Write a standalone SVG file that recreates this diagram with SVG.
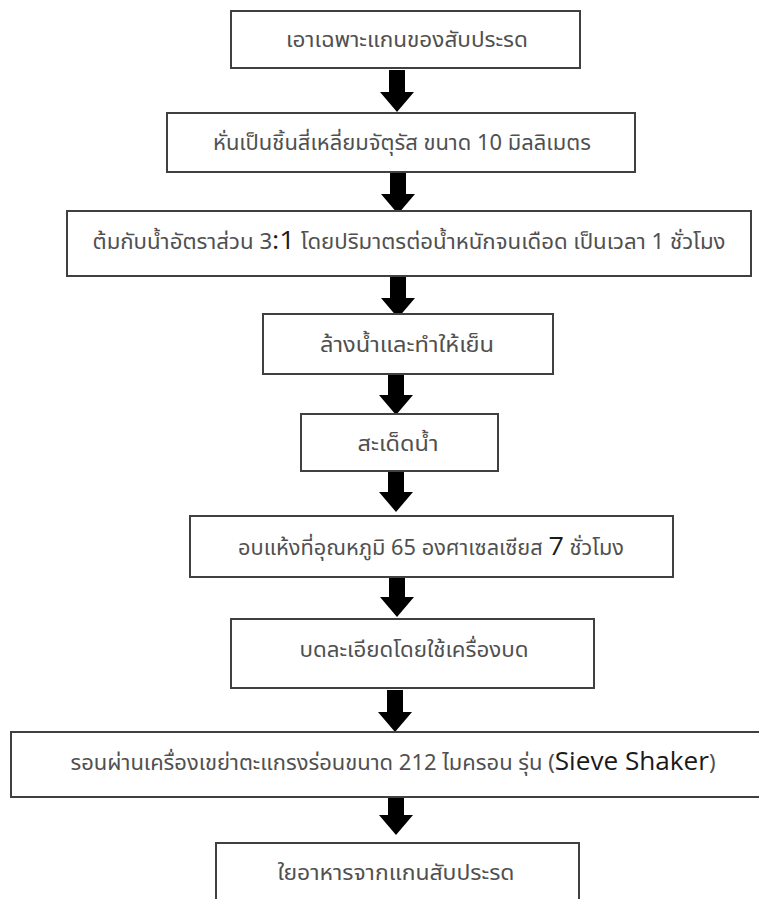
<svg xmlns="http://www.w3.org/2000/svg" width="759" height="899" viewBox="0 0 759 899">
<style>
.box{fill:#fff;stroke:#404040;stroke-width:2}
.t{font-family:"Noto Sans Thai","Noto Sans","DejaVu Sans",sans-serif;font-size:21px;fill:#505050;text-anchor:middle}
.b{fill:#1a1a1a;font-family:"Open Sans","Noto Sans",sans-serif}
.arr{fill:#000}
</style>
<defs>
<path id="arrow" d="M-8,0 H8 V22 H17 L0,42 L-17,22 H-8 Z"/>
</defs>
<rect width="759" height="899" fill="#fff"/>
<g id="connectors">
<use href="#arrow" class="arr" x="397" y="70"/>
<use href="#arrow" class="arr" x="398" y="172"/>
<use href="#arrow" class="arr" x="398" y="276"/>
<use href="#arrow" class="arr" x="396" y="373"/>
<use href="#arrow" class="arr" x="396" y="470"/>
<use href="#arrow" class="arr" x="397" y="575"/>
<use href="#arrow" class="arr" x="395" y="690"/>
<use href="#arrow" class="arr" x="396" y="793"/>
</g>
<g id="n1"><rect class="box" x="231" y="11" width="349" height="57"/><text class="t" x="407" y="47" textLength="242" lengthAdjust="spacingAndGlyphs">เอาเฉพาะแกนของสับประรด</text></g>
<g id="n2"><rect class="box" x="167" y="113" width="468" height="59"/><text class="t" x="402" y="150" textLength="378" lengthAdjust="spacingAndGlyphs">หั่นเป็นชิ้นสี่เหลี่ยมจัตุรัส ขนาด 10 มิลลิเมตร</text></g>
<g id="n3"><rect class="box" x="67" y="211" width="684" height="65"/><text class="t" x="409" y="249" textLength="633" lengthAdjust="spacingAndGlyphs">ต้มกับน้ำอัตราส่วน 3<tspan class="b" font-size="26">:1</tspan> โดยปริมาตรต่อน้ำหนักจนเดือด เป็นเวลา 1 ชั่วโมง</text></g>
<g id="n4"><rect class="box" x="263" y="314" width="290" height="60"/><text class="t" x="407" y="352" textLength="174" lengthAdjust="spacingAndGlyphs">ล้างน้ำและทำให้เย็น</text></g>
<g id="n5"><rect class="box" x="301" y="414" width="197" height="57"/><text class="t" x="398" y="451" textLength="81" lengthAdjust="spacingAndGlyphs">สะเด็ดน้ำ</text></g>
<g id="n6"><rect class="box" x="190" y="516" width="483" height="61"/><text class="t" x="431" y="555" textLength="386" lengthAdjust="spacingAndGlyphs">อบแห้งที่อุณหภูมิ 65 องศาเซลเซียส <tspan class="b" font-size="26">7</tspan> ชั่วโมง</text></g>
<g id="n7"><rect class="box" x="231" y="619" width="363" height="69"/><text class="t" x="414" y="657" textLength="229" lengthAdjust="spacingAndGlyphs">บดละเอียดโดยใช้เครื่องบด</text></g>
<g id="n8"><rect class="box" x="11" y="732" width="760" height="65"/><text class="t" x="393" y="770" textLength="645" lengthAdjust="spacingAndGlyphs">รอนผ่านเครื่องเขย่าตะแกรงร่อนขนาด 212 ไมครอน รุ่น (<tspan class="b" font-size="25">Sieve Shaker</tspan>)</text></g>
<g id="n9"><rect class="box" x="216" y="843" width="363" height="70"/><text class="t" x="396" y="880" textLength="237" lengthAdjust="spacingAndGlyphs">ใยอาหารจากแกนสับประรด</text></g>
</svg>
